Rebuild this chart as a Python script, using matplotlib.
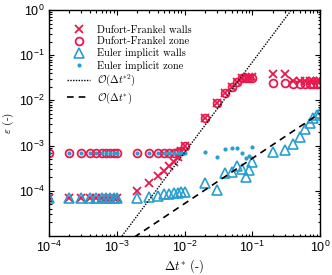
import numpy as np
import matplotlib
matplotlib.use("Agg")
import matplotlib.pyplot as plt
from matplotlib.ticker import LogLocator, NullFormatter, FixedLocator

plt.rcParams['mathtext.fontset'] = 'custom'
plt.rcParams['mathtext.rm'] = 'Liberation Sans'
plt.rcParams['mathtext.it'] = 'Liberation Sans:italic'
plt.rcParams['mathtext.bf'] = 'Liberation Sans:bold'
plt.rcParams['font.family'] = ['Liberation Sans', 'DejaVu Sans']

# time steps
dt = [1e-4, 2e-4, 3e-4, 4e-4, 5e-4, 6e-4, 7e-4, 8e-4, 9e-4, 1e-3,
      2e-3, 3e-3, 4e-3, 5e-3, 6e-3, 7e-3, 8e-3, 9e-3, 1e-2,
      2e-2, 3e-2, 4e-2, 5e-2, 6e-2, 7e-2, 8e-2, 9e-2, 1e-1,
      2e-1, 3e-1, 4e-1, 5e-1, 6e-1, 7e-1, 8e-1, 9e-1, 1.0]

df_walls = [7e-5] * 10 + \
    [1.0e-4, 1.5e-4, 2.1e-4, 2.8e-4, 3.5e-4, 4.4e-4, 5.6e-4, 7.5e-4, 1.0e-3,
     4.1e-3, 8.7e-3, 1.45e-2, 2.0e-2, 2.6e-2, 3.1e-2, 3.2e-2, 3.3e-2, 3.3e-2,
     3.8e-2, 3.8e-2, 2.7e-2, 2.7e-2, 2.7e-2, 2.7e-2, 2.7e-2, 2.7e-2, 2.7e-2]

df_zone = [7e-4] * 10 + \
    [7e-4, 7e-4, 7e-4, 7e-4, 7e-4, 7e-4, 7.2e-4, 7.5e-4, 1.0e-3,
     4.1e-3, 8.7e-3, 1.45e-2, 2.0e-2, 2.6e-2, 3.2e-2, 3.2e-2, 3.2e-2, 3.2e-2,
     2.4e-2, 2.4e-2, 2.35e-2, 2.35e-2, 2.35e-2, 2.35e-2, 2.35e-2, 2.35e-2, 2.35e-2]

ei_walls = [7e-5] * 10 + \
    [6.9e-5, 7.2e-5, 7.8e-5, 8.3e-5, 8.6e-5, 8.8e-5, 8.8e-5, 9.2e-5, 9.5e-5,
     1.5e-4, 1.04e-4, 2.5e-4, 2.6e-4, 3.5e-4, 3.0e-4, 2.0e-4, 2.9e-4, 4.4e-4,
     7.2e-4, 7.9e-4, 1.1e-3, 1.55e-3, 2.3e-3, 3.1e-3, 4.1e-3, 4.8e-3, 5.3e-3]

ei_zone = [7e-4] * 10 + \
    [7e-4, 7e-4, 7e-4, 7e-4, 7e-4, 7e-4, 7e-4, 7e-4, 7e-4,
     7.4e-4, 5.5e-4, 8.3e-4, 8.7e-4, 8.7e-4, 6.9e-4, 5.2e-4, 5.9e-4, 9.5e-4,
     np.nan, np.nan, np.nan, np.nan, np.nan, np.nan, np.nan, np.nan, np.nan]

c2 = 7.0      # coefficient of O(dt^2)
c1 = 5.2e-3   # coefficient of O(dt)

red = '#E8194D'
blue = '#2A9ECF'

fig = plt.figure(figsize=(3.32, 2.75), dpi=100)
ax = fig.add_axes([49/332, 1-236/275, (320-49)/332, (236-10)/275])

x = np.array(dt)
ax.plot(x, df_walls, ls='none', marker='x', ms=5.2, mew=1.3, color=red,
        label='Dufort-Frankel walls')
ax.plot(x, df_zone, ls='none', marker='o', ms=5.6, mew=1.3, mfc='none', mec=red,
        label='Dufort-Frankel zone')
ax.plot(x, ei_walls, ls='none', marker='^', ms=6.5, mew=1.2, mfc='none', mec=blue,
        label='Euler implicit walls')
ax.plot(x, ei_zone, ls='none', marker='o', ms=3, mew=0, color=blue,
        label='Euler implicit zone')

xr = np.logspace(-4, 0, 200)
ax.plot(xr, c2 * xr**2, ls=(0, (1, 1)), lw=1.0, color='k',
        label=r'$\mathcal{O}(\Delta t^{*2})$')
ax.plot(xr, c1 * xr, ls=(0, (4, 3)), lw=1.2, color='k',
        label=r'$\mathcal{O}(\Delta t^{*})$')

ax.set_xscale('log')
ax.set_yscale('log')
ax.set_xlim(1e-4, 1)
ax.set_ylim(1e-5, 1)

ax.xaxis.set_major_locator(FixedLocator([1e-4, 1e-3, 1e-2, 1e-1, 1]))
ax.yaxis.set_major_locator(FixedLocator([1e-4, 1e-3, 1e-2, 1e-1, 1]))
ax.set_xticklabels([r'$10^{-4}$', r'$10^{-3}$', r'$10^{-2}$', r'$10^{-1}$', r'$10^{0}$'])
ax.set_yticklabels([r'$10^{-4}$', r'$10^{-3}$', r'$10^{-2}$', r'$10^{-1}$', r'$10^{0}$'])
ax.xaxis.set_minor_locator(LogLocator(base=10, subs=np.arange(2, 10), numticks=20))
ax.yaxis.set_minor_locator(LogLocator(base=10, subs=np.arange(2, 10), numticks=20))
ax.xaxis.set_minor_formatter(NullFormatter())
ax.yaxis.set_minor_formatter(NullFormatter())
ax.tick_params(which='both', direction='in', top=True, right=True, width=0.8,
               labelsize=9, pad=3)
ax.tick_params(which='major', length=3.5)
ax.tick_params(which='minor', length=1.8)
for s in ax.spines.values():
    s.set_linewidth(1.0)

ax.set_xlabel(r'$\Delta t^{*}$ (-)', fontsize=9, fontfamily='cmr10', labelpad=1)
ax.xaxis.label.set_math_fontfamily('cm')
ax.set_ylabel(r'$\varepsilon$ (-)', fontsize=8, fontfamily='cmr10', labelpad=2)
ax.yaxis.label.set_math_fontfamily('cm')

leg = ax.legend(loc='upper left', bbox_to_anchor=(0.045, 0.96), frameon=False,
                fontsize=7.5, handlelength=2.2, handletextpad=0.6,
                labelspacing=0.2, borderaxespad=0.2)
for t in leg.get_texts():
    t.set_fontfamily('cmr10')
    t.set_math_fontfamily('cm')

fig.savefig('out.png', dpi=100)
